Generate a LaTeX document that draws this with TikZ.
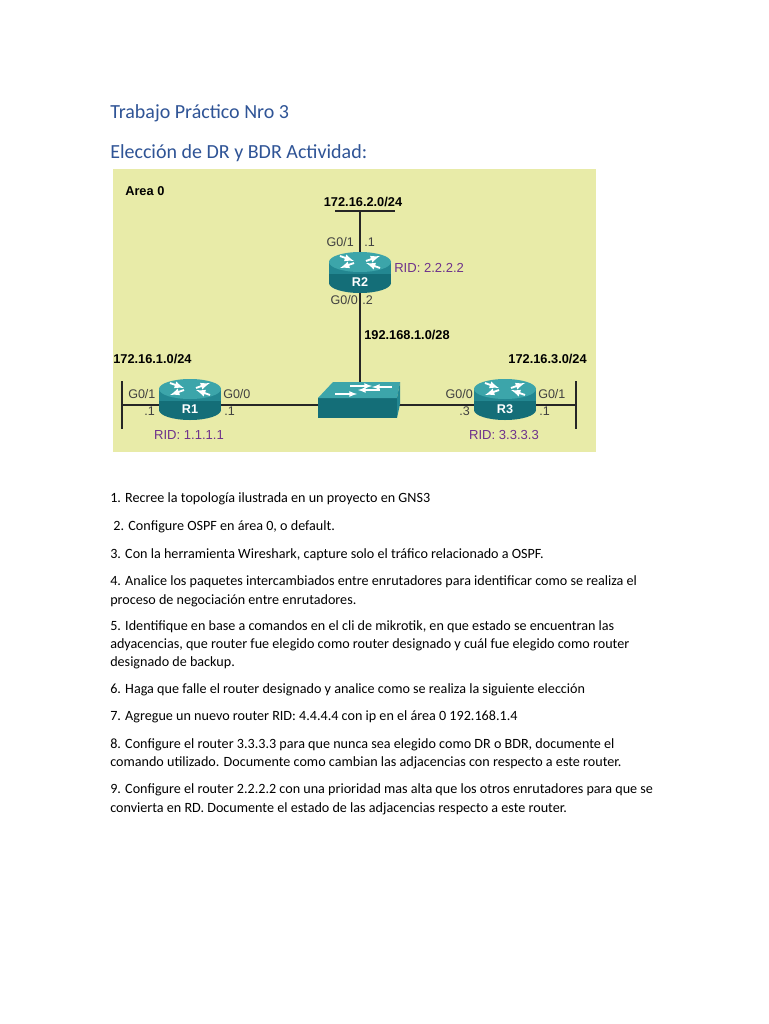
\documentclass[tikz,border=0pt]{standalone}
\usepackage{fontspec}
\setmainfont{Carlito}
\newfontfamily\dfont{Liberation Sans}
\begin{document}
\begin{tikzpicture}[x=0.75pt,y=-0.75pt,
  body/.style={font=\fontsize{10.6}{12}\selectfont,anchor=base west,inner sep=0},
  dlab/.style={font=\dfont\fontsize{9.4}{10}\selectfont,inner sep=0,text=black!75},
  dlabb/.style={font=\dfont\bfseries\fontsize{9.6}{10}\selectfont,inner sep=0},
  rid/.style={font=\dfont\fontsize{9.8}{10}\selectfont,inner sep=0,text=rid},
  wire/.style={line width=1.3pt,black!85},
  bar/.style={line width=2pt,black!85}]
\definecolor{bgy}{RGB}{232,235,168}
\definecolor{tealA}{RGB}{20,110,120}
\definecolor{tealB}{RGB}{60,165,170}
\definecolor{tealC}{RGB}{35,135,145}
\definecolor{rid}{RGB}{110,50,140}
\definecolor{titleblue}{RGB}{47,84,150}
\useasboundingbox (0,0) rectangle (768,1024);
\fill[white] (0,0) rectangle (768,1024);
\node[anchor=base west,inner sep=0,text=titleblue,font=\fontsize{15}{18}\selectfont] (t1) at (110,118) {Trabajo Práctico Nro 3};
\node[anchor=base west,inner sep=0,text=titleblue,font=\fontsize{15}{18}\selectfont] (t2) at (110,158) {Elección de DR y BDR Actividad:};
\fill[bgy] (113,169) rectangle (596,452);
\node[dlabb,anchor=west] (area) at (125,191) {Area 0};
\newcommand\myrouter[3]{%
  \begin{scope}[shift={(#1,#2)}]
    \fill[tealA] (0,11) ellipse[x radius=31,y radius=10];
    \fill[tealA] (-31,-10) rectangle (31,11);
    \fill[tealC] (-31,-10) rectangle (31,2);
    \fill[tealB] (0,-10) ellipse[x radius=31,y radius=10];
    \draw[white,line width=1.4pt,-latex] (-20,-16) -- (-6,-11);
    \draw[white,line width=1.4pt,-latex] (20,-4) -- (6,-9);
    \draw[white,line width=1.4pt,-latex] (-6,-9) -- (-20,-4);
    \draw[white,line width=1.4pt,-latex] (6,-11) -- (20,-16);
    \node[font=\dfont\bfseries\fontsize{9.5}{10}\selectfont,text=white] at (0,10) {#3};
  \end{scope}}
\coordinate (topL) at (335,211); \coordinate (topR) at (395,211);
\coordinate (topM) at (360,211);
\coordinate (lbar) at (122,405); \coordinate (rbar) at (576,405);
\node[inner sep=0,minimum width=46pt,minimum height=30pt] (r2) at (360,272) {};
\node[inner sep=0,minimum width=46pt,minimum height=30pt] (r1) at (190,402) {};
\node[inner sep=0,minimum width=46pt,minimum height=30pt] (r3) at (505,402) {};
\node[inner sep=0,minimum width=60pt,minimum height=26pt] (sw) at (359,400) {};
\draw[bar] (topL) -- (topR);
\draw[wire] (topM) -- (360,300) -- (360,385);
\draw[wire] (lbar) -- (rbar);
\draw[bar] (122,381) -- (122,429);
\draw[bar] (576,381) -- (576,429);
\fill[tealA] (318,398) rectangle (397,418);
\fill[tealB] (318,398) -- (333,382) -- (400,382) -- (397,398) -- cycle;
\fill[tealC] (397,398) -- (400,382) -- (400,404) -- (397,418) -- cycle;
\draw[white,line width=1pt,-latex] (350,386) -- (372,386);
\draw[white,line width=1pt,-latex] (380,390) -- (358,390);
\draw[white,line width=1pt,-latex] (335,394) -- (357,394);
\draw[white,line width=1pt,-latex] (392,387) -- (372,387);
\myrouter{360}{272}{R2}
\myrouter{190}{399}{R1}
\myrouter{505}{399}{R3}
\node[dlabb] (n2) at (363,202) {172.16.2.0/24};
\node[dlab,anchor=east] at (354,242) {G0/1};
\node[dlab,anchor=west] at (364,242) {.1};
\node[rid,anchor=west] at (394,268) {RID: 2.2.2.2};
\node[dlab,anchor=east] at (358,300) {G0/0};
\node[dlab,anchor=west] at (362,300) {.2};
\node[dlabb,anchor=west] (n4) at (364,335) {192.168.1.0/28};
\node[dlabb,anchor=west] (n1) at (113,359) {172.16.1.0/24};
\node[dlabb,anchor=east] (n3) at (587,359) {172.16.3.0/24};
\node[dlab,anchor=west] at (128,394) {G0/1};
\node[dlab,anchor=east] at (155,411) {.1};
\node[dlab,anchor=west] at (223,394) {G0/0};
\node[dlab,anchor=west] at (224,411) {.1};
\node[dlab,anchor=east] at (473,394) {G0/0};
\node[dlab,anchor=east] at (470,411) {.3};
\node[dlab,anchor=west] at (538,394) {G0/1};
\node[dlab,anchor=west] at (539,411) {.1};
\node[rid] at (189,435) {RID: 1.1.1.1};
\node[rid] at (504,435) {RID: 3.3.3.3};
\node[body] (l1) at (110,502) {1. Recree la topología ilustrada en un proyecto en GNS3};
\node[body] (l2) at (110,530) {\ 2. Configure OSPF en área 0, o default.};
\node[body] (l3) at (110,558) {3. Con la herramienta Wireshark, capture solo el tráfico relacionado a OSPF.};
\node[body] (l4) at (110,585) {4. Analice los paquetes intercambiados entre enrutadores para identificar como se realiza el};
\node[body] (l4b) at (110,604) {proceso de negociación entre enrutadores.};
\node[body] (l5) at (110,630) {5. Identifique en base a comandos en el cli de mikrotik, en que estado se encuentran las};
\node[body] (l5b) at (110,648) {adyacencias, que router fue elegido como router designado y cuál fue elegido como router};
\node[body] (l5c) at (110,666) {designado de backup.};
\node[body] (l6) at (110,693) {6. Haga que falle el router designado y analice como se realiza la siguiente elección};
\node[body] (l7) at (110,720) {7. Agregue un nuevo router RID: 4.4.4.4 con ip en el área 0 192.168.1.4};
\node[body] (l8) at (110,748) {8. Configure el router 3.3.3.3 para que nunca sea elegido como DR o BDR, documente el};
\node[body] (l8b) at (110,766) {comando utilizado. Documente como cambian las adjacencias con respecto a este router.};
\node[body] (l9) at (110,793) {9. Configure el router 2.2.2.2 con una prioridad mas alta que los otros enrutadores para que se};
\node[body] (l9b) at (110,812) {convierta en RD. Documente el estado de las adjacencias respecto a este router.};
\end{tikzpicture}
\end{document}
